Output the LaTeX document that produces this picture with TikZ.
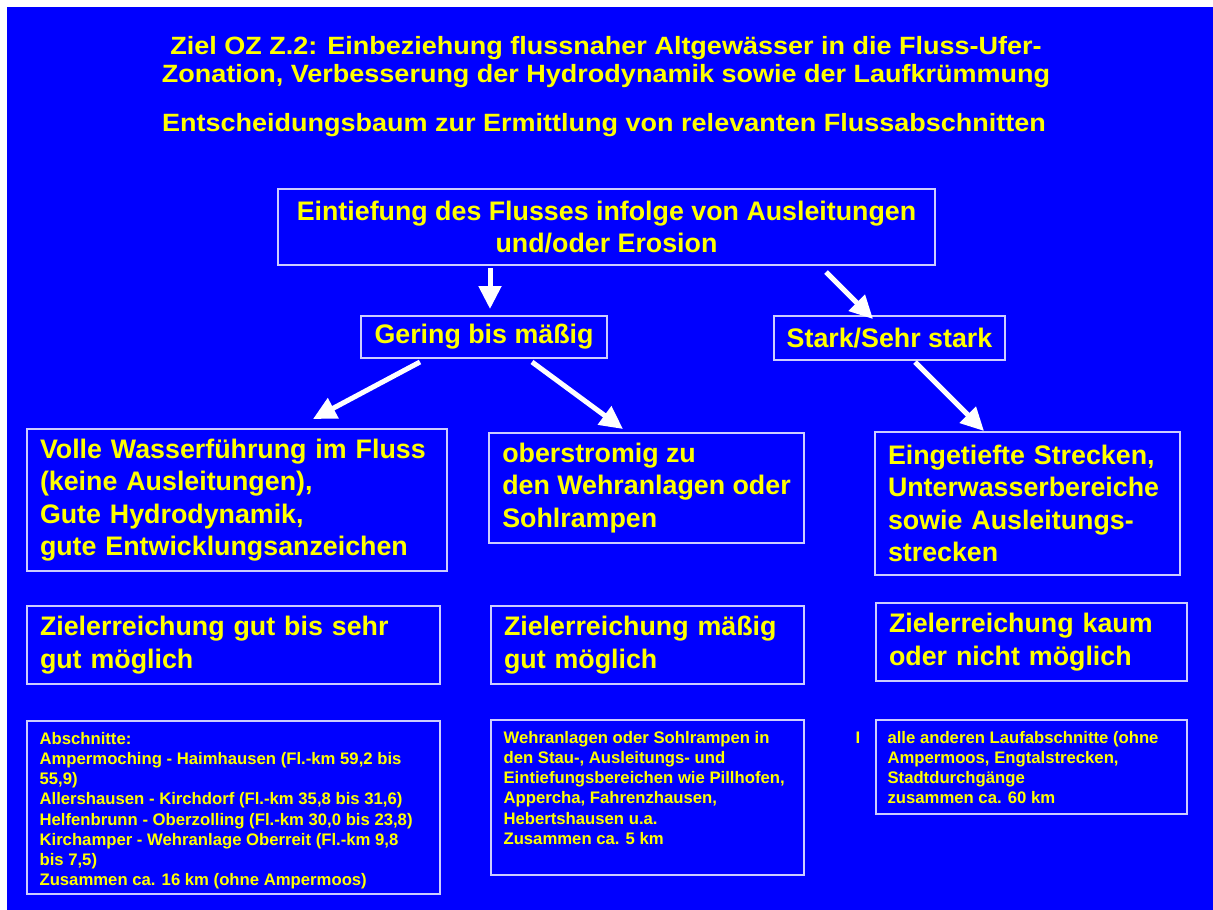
\documentclass[tikz,border=0pt]{standalone}
\usepackage{fontspec}
\setmainfont{Liberation Sans}
\newfontfamily\widefont[FakeStretch=1.08]{Liberation Sans}
\usetikzlibrary{positioning,arrows.meta}
\definecolor{bgblue}{RGB}{0,0,255}
\definecolor{txtyellow}{RGB}{255,255,0}
\definecolor{frameline}{RGB}{205,205,255}

\begin{document}
\begin{tikzpicture}[x=1pt,y=-1pt,
  box/.style = {draw=frameline, line width=1.3pt, text=txtyellow, inner sep=0pt, font=\fontsize{26.8}{32.4}\selectfont\bfseries},
  leftbox/.style = {box, align=left, inner xsep=13pt},
  frame/.style = {draw=frameline, line width=1.3pt, inner sep=0pt},
  small/.style = {text=txtyellow, align=left, inner sep=0pt, font=\fontsize{16.7}{20.1}\selectfont\bfseries},
  headline/.style = {text=txtyellow, align=center, font=\widefont\fontsize{25}{28}\selectfont\bfseries},
  bigarrow/.style = {draw=white, line width=5pt, -{Triangle[width=22pt,length=23pt]}},
  ]
\useasboundingbox (0,0) rectangle (1213,910);
\fill[white] (0,0) rectangle (1213,910);
\fill[bgblue] (7,7) rectangle (1213,910);
% title
\node (title) at (606,62)[headline]
  {Ziel OZ Z.2: Einbeziehung flussnaher Altgewässer in die Fluss-Ufer-\\Zonation, Verbesserung der Hydrodynamik sowie der Laufkrümmung};
\node (subtitle) at (604,125)[headline]
  {Entscheidungsbaum zur Ermittlung von relevanten Flussabschnitten};
% decision boxes
\node (top) at (606.5,227)[box, align=center, minimum width=657pt, minimum height=76pt]
  {Eintiefung des Flusses infolge von Ausleitungen\\und/oder Erosion};
\node (gering) at (484,337)[box, minimum width=246pt, minimum height=42pt] {Gering bis mäßig};
\node (stark) at (889.5,338)[box, minimum width=231pt, minimum height=44pt] {Stark/Sehr stark};
\node (volle) at (237,500)[leftbox, text width=394pt, minimum height=142pt]
  {Volle Wasserführung im Fluss\\(keine Ausleitungen),\\Gute Hydrodynamik,\\gute Entwicklungsanzeichen};
\node (ober) at (646.5,488)[box, align=left, minimum width=315pt, minimum height=110pt]
  {oberstromig zu\\den Wehranlagen oder\\Sohlrampen};
\node (eingetieft) at (1027.5,503.5)[leftbox, text width=279pt, minimum height=143pt]
  {Eingetiefte Strecken,\\Unterwasserbereiche\\sowie Ausleitungs-\\strecken};
\node (ziel1) at (233.5,645)[leftbox, text width=387pt, minimum height=78pt]
  {Zielerreichung gut bis sehr\\gut möglich};
\node (ziel2) at (647.5,645)[leftbox, text width=287pt, minimum height=78pt]
  {Zielerreichung mäßig\\gut möglich};
\node (ziel3) at (1031.5,642)[leftbox, text width=285pt, minimum height=78pt]
  {Zielerreichung kaum\\oder nicht möglich};
% sections
\node (abs1) at (233.5,807.5)[frame, minimum width=413pt, minimum height=173pt] {};
\node (abs2) at (647.5,797.5)[frame, minimum width=313pt, minimum height=155pt] {};
\node (abs3) at (1031.5,767)[frame, minimum width=311pt, minimum height=94pt] {};
\node (abs1text)[small, below right=12pt and 13pt of abs1.north west]
  {Abschnitte:\\Ampermoching - Haimhausen (Fl.-km 59,2 bis\\55,9)\\Allershausen - Kirchdorf (Fl.-km 35,8 bis 31,6)\\Helfenbrunn - Oberzolling (Fl.-km 30,0 bis 23,8)\\Kirchamper - Wehranlage Oberreit (Fl.-km 9,8\\bis 7,5)\\Zusammen ca. 16 km (ohne Ampermoos)};
\node (abs2text)[small, below right=12pt and 13pt of abs2.north west]
  {Wehranlagen oder Sohlrampen in\\den Stau-, Ausleitungs- und\\Eintiefungsbereichen wie Pillhofen,\\Appercha, Fahrenzhausen,\\Hebertshausen u.a.\\Zusammen ca. 5 km};
\node (abs3text)[small, below right=12pt and 12pt of abs3.north west]
  {alle anderen Laufabschnitte (ohne\\Ampermoos, Engtalstrecken,\\Stadtdurchgänge\\zusammen ca. 60 km};
\node (mark)[small, left=27pt of abs3text.north west, anchor=north east] {I};
% arrows
\coordinate (a1s) at (490,268);
\coordinate (a1e) at (490,309);
\coordinate (a2s) at (826,272);
\coordinate (a2e) at (873,319);
\coordinate (a3s) at (420,362);
\coordinate (a3e) at (313,419);
\coordinate (a4s) at (532,362);
\coordinate (a4e) at (623,429);
\coordinate (a5s) at (915,362);
\coordinate (a5e) at (984,431);
\draw[bigarrow] (a1s)--(a1e);
\draw[bigarrow] (a2s)--(a2e);
\draw[bigarrow] (a3s)--(a3e);
\draw[bigarrow] (a4s)--(a4e);
\draw[bigarrow] (a5s)--(a5e);
\end{tikzpicture}
\end{document}
